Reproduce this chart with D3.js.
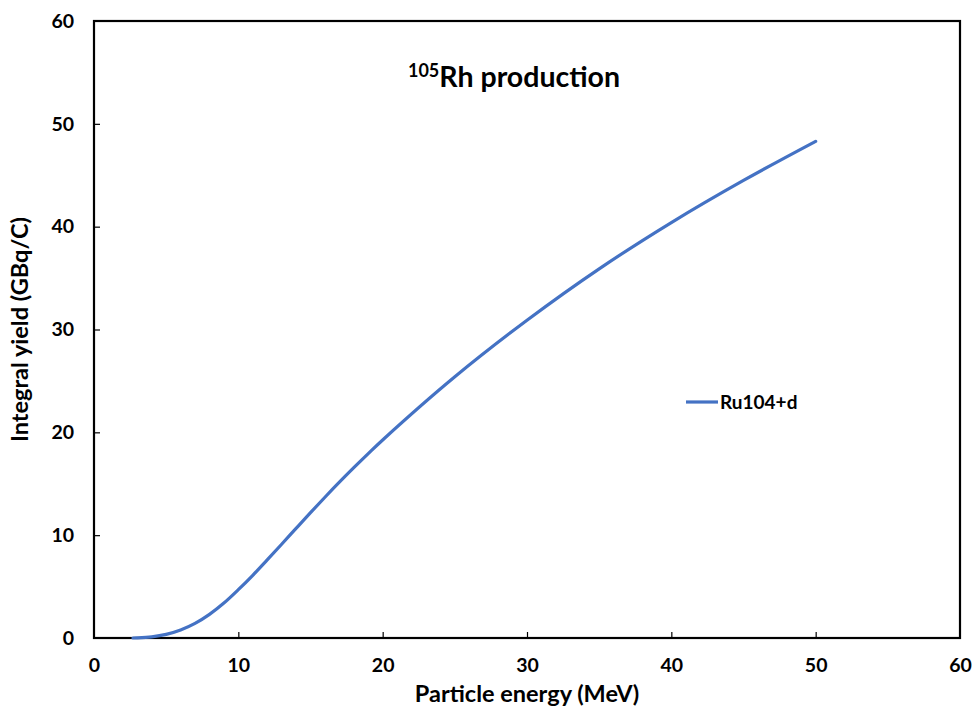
<!DOCTYPE html>
<html>
<head>
<meta charset="utf-8">
<script src="https://cdn.jsdelivr.net/npm/d3@7"></script>
<style>
  html, body { margin: 0; padding: 0; background: #fff; }
  svg { display: block; font-family: Lato, "Open Sans", "Liberation Sans", sans-serif; }
</style>
</head>
<body>
<svg id="chart" width="974" height="712"></svg>
<script>
// Integral yield of 105Rh from the Ru104(d,x) reaction
const energy = [2.7, 3, 4, 5, 6, 7, 8, 9, 10, 11, 12, 13, 14, 15, 16, 17, 18, 19, 20, 25, 30, 35, 40, 45, 50];
const yieldGBq = [0, 0.01, 0.11, 0.35, 0.78, 1.42, 2.3, 3.4, 4.7, 6.1, 7.6, 9.12, 10.66, 12.19, 13.69, 15.15, 16.56, 17.93, 19.26, 25.4, 30.9, 35.9, 40.4, 44.5, 48.3];
const xTicks = [0, 10, 20, 30, 40, 50, 60];
const yTicks = [0, 10, 20, 30, 40, 50, 60];
const seriesName = "Ru104+d";

const svg = d3.select("#chart");
const plotLeft = 94, plotRight = 960, plotTop = 21, plotBottom = 638;

const x = d3.scaleLinear().domain([0, 60]).range([plotLeft, plotRight]);
const y = d3.scaleLinear().domain([0, 60]).range([plotBottom, plotTop]);

// Axes with inward ticks
const xAxis = d3.axisBottom(x).tickValues(xTicks).tickSizeInner(-6).tickSizeOuter(0).tickPadding(20);
const yAxis = d3.axisLeft(y).tickValues(yTicks).tickSizeInner(-6).tickSizeOuter(0).tickPadding(20);

const gx = svg.append("g").attr("transform", `translate(0,${plotBottom})`).call(xAxis);
const gy = svg.append("g").attr("transform", `translate(${plotLeft},0)`).call(yAxis);

[gx, gy].forEach(g => {
  g.select(".domain").remove();
  g.selectAll(".tick line").attr("stroke", "#000").attr("stroke-width", 1.2);
  g.selectAll(".tick text")
    .attr("fill", "#000")
    .attr("font-size", 19.5)
    .attr("font-weight", "bold")
    .attr("font-family", "Lato, 'Open Sans', sans-serif");
});
gx.selectAll(".tick line").filter(d => d === 0 || d === 60).remove();
gy.selectAll(".tick line").filter(d => d === 0 || d === 60).remove();

// Plot frame
svg.append("rect")
  .attr("x", plotLeft).attr("y", plotTop)
  .attr("width", plotRight - plotLeft).attr("height", plotBottom - plotTop)
  .attr("fill", "none").attr("stroke", "#000").attr("stroke-width", 2.2);

// Yield curve
const line = d3.line()
  .x((d, i) => x(energy[i]))
  .y(d => y(d))
  .curve(d3.curveCatmullRom.alpha(0.5));

svg.append("path")
  .datum(yieldGBq)
  .attr("d", line)
  .attr("fill", "none")
  .attr("stroke", "#4472C4")
  .attr("stroke-width", 3.2)
  .attr("stroke-linecap", "round");

// Title
const title = svg.append("text")
  .attr("x", 514).attr("y", 87)
  .attr("text-anchor", "middle")
  .attr("font-size", 28.5)
  .attr("font-weight", "bold")
  .attr("fill", "#000");
title.append("tspan").attr("font-size", 18).attr("dy", -10).text("105");
title.append("tspan").attr("dy", 10).text("Rh production");

// Axis titles
svg.append("text")
  .attr("x", 527).attr("y", 702)
  .attr("text-anchor", "middle")
  .attr("font-size", 23.5).attr("font-weight", "bold")
  .text("Particle energy (MeV)");

svg.append("text")
  .attr("transform", `translate(28,${(plotTop + plotBottom) / 2}) rotate(-90)`)
  .attr("text-anchor", "middle")
  .attr("font-size", 23.5).attr("font-weight", "bold")
  .text("Integral yield (GBq/C)");

// Legend
const lg = svg.append("g").attr("transform", "translate(686,402)");
lg.append("line").attr("x1", 0).attr("x2", 32).attr("y1", 0).attr("y2", 0)
  .attr("stroke", "#4472C4").attr("stroke-width", 3.2);
lg.append("text").attr("x", 34).attr("y", 7)
  .attr("font-size", 19).attr("font-weight", "bold").text(seriesName);
</script>
</body>
</html>
